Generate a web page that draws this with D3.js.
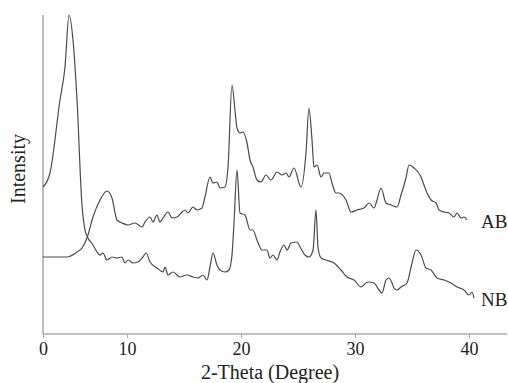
<!DOCTYPE html>
<html>
<head>
<meta charset="utf-8">
<script src="https://cdn.jsdelivr.net/npm/d3@7"></script>
<style>
  body { margin: 0; background: #fff; }
  text { font-family: "Liberation Serif", "Times New Roman", serif; fill: #222; }
</style>
</head>
<body>
<div id="chart"></div>
<script>
// x tick labels
const xTicks = [0, 10, 20, 30, 40];

// series: [2-theta (degree), intensity]
const nbData = [
  [0, 147], [0.83, 161], [2.02, 234], [2.62, 267], [3.10, 319], [3.57, 294], [4.05, 234],
  [4.64, 129], [5.0, 104], [5.36, 96], [5.95, 89], [6.43, 82], [6.79, 79], [7.14, 81],
  [7.62, 74], [8.21, 77], [8.81, 76], [9.40, 77], [9.76, 71], [10.09, 74], [10.53, 71],
  [10.96, 72], [11.40, 77], [11.67, 81], [12.02, 72], [12.63, 66], [13.16, 62], [13.33, 67],
  [13.60, 59], [14.04, 62], [14.65, 57], [15.26, 59], [15.79, 57], [16.23, 56], [16.67, 59],
  [17.02, 54], [17.28, 67], [17.54, 81], [17.89, 69], [18.16, 64], [18.60, 62], [18.95, 64],
  [19.21, 79], [19.39, 112], [19.65, 164], [19.91, 121], [20.35, 119], [20.79, 104], [21.05, 104],
  [21.40, 94], [21.84, 84], [22.28, 84], [22.54, 76], [22.81, 79], [23.16, 74], [23.42, 82],
  [23.77, 89], [24.04, 84], [24.39, 91], [24.91, 92], [25.18, 87], [25.61, 79], [25.96, 77],
  [26.32, 84], [26.58, 124], [26.75, 87], [27.02, 76], [27.46, 74], [28.16, 71], [28.77, 64],
  [29.30, 57], [29.91, 54], [30.53, 47], [30.96, 51], [31.23, 52], [31.67, 51], [32.11, 44],
  [32.37, 41], [32.72, 54], [32.98, 56], [33.25, 51], [33.42, 46], [33.68, 44], [34.04, 47],
  [34.56, 51], [35.0, 71], [35.35, 84], [35.79, 79], [36.23, 66], [36.67, 64], [37.19, 56],
  [37.81, 54], [38.42, 51], [38.95, 47], [39.56, 44], [40.0, 39], [40.26, 42], [40.44, 36]
];

const abData = [
  [0, 77], [2.86, 77], [4.05, 82], [4.64, 86], [5.24, 96], [5.95, 117], [6.79, 134],
  [7.62, 143], [8.21, 136], [8.81, 114], [9.40, 111], [10.09, 109], [10.70, 111], [11.32, 107],
  [11.58, 112], [12.02, 117], [12.28, 112], [12.63, 119], [12.89, 112], [13.16, 116], [13.60, 122],
  [13.95, 116], [14.39, 117], [14.82, 122], [15.09, 124], [15.35, 121], [15.79, 127], [16.14, 124],
  [16.58, 126], [16.84, 137], [17.28, 157], [17.54, 151], [17.89, 152], [18.16, 146], [18.60, 147],
  [18.86, 167], [19.21, 249], [19.47, 224], [19.65, 206], [19.91, 201], [20.18, 202], [20.53, 191],
  [20.79, 174], [21.05, 167], [21.40, 154], [21.75, 152], [22.19, 159], [22.63, 154], [23.16, 162],
  [23.60, 159], [23.95, 161], [24.21, 157], [24.65, 166], [25.26, 147], [25.70, 181], [25.96, 226],
  [26.23, 194], [26.40, 167], [26.67, 169], [27.02, 157], [27.28, 161], [27.72, 161], [27.98, 151],
  [28.33, 141], [28.60, 141], [29.21, 134], [29.65, 122], [30.18, 124], [30.79, 126], [31.23, 131],
  [31.67, 126], [31.93, 134], [32.28, 146], [32.72, 131], [33.16, 129], [33.68, 127], [34.04, 139],
  [34.47, 156], [34.74, 169], [35.18, 166], [35.79, 157], [36.05, 149], [36.32, 141], [36.67, 134],
  [37.11, 131], [37.37, 124], [37.81, 122], [38.25, 121], [38.68, 117], [38.95, 121], [39.30, 116],
  [39.56, 117], [39.82, 114]
];

const series = [
  {id: "AB", values: abData},
  {id: "NB", values: nbData}
];

const dimensions = {
  width: 508,
  height: 383,
  marginLeft: 43,
  marginTop: 14,
  axisY: 334,
  axisEnd: 507
};

const wrapper = d3.select("#chart")
  .append("svg")
    .attr("width", dimensions.width)
    .attr("height", dimensions.height);

// the original axis is squeezed between 0 and 10
const xScale = d3.scaleLinear()
  .domain([0, 10, 40])
  .range([43, 127, 469]);

const yScale = d3.scaleLinear()
  .domain([0, 320])
  .range([dimensions.axisY, dimensions.marginTop]);

// axes
wrapper.append("line")
  .attr("x1", dimensions.marginLeft).attr("x2", dimensions.marginLeft)
  .attr("y1", 15).attr("y2", dimensions.axisY)
  .attr("stroke", "#999")
  .attr("stroke-width", 1.3);

const xAxis = wrapper.append("g")
  .attr("transform", `translate(0, ${dimensions.axisY})`)
  .call(d3.axisBottom(xScale).tickValues(xTicks).tickSize(4).tickSizeOuter(0).tickPadding(4));

xAxis.select(".domain")
  .attr("d", `M${dimensions.marginLeft},0H${dimensions.axisEnd}`)
  .attr("stroke", "#aaa")
  .attr("stroke-width", 1.6);

xAxis.selectAll(".tick line")
  .attr("stroke", "#aaa");

xAxis.selectAll(".tick text")
  .attr("fill", "#1a1a1a")
  .style("font-family", "'Liberation Serif', serif")
  .style("font-size", "18px");

// lines
const lineGenerator = d3.line()
  .curve(d3.curveMonotoneX)
  .x(d => xScale(d[0]))
  .y(d => yScale(d[1]));

wrapper.selectAll(".series")
  .data(series)
  .enter()
  .append("path")
    .attr("class", "series")
    .attr("d", d => lineGenerator(d.values))
    .attr("fill", "none")
    .attr("stroke", "#4a4a4a")
    .attr("stroke-width", 1.2)
    .attr("stroke-linejoin", "round");

// series labels
wrapper.selectAll(".label")
  .data(series)
  .enter()
  .append("text")
    .attr("class", "label")
    .attr("x", 481)
    .attr("y", d => yScale(d.values[d.values.length - 1][1]) + 8)
    .style("font-size", "19px")
    .text(d => d.id);

// axis titles
wrapper.append("text")
  .attr("x", 270)
  .attr("y", 379)
  .attr("text-anchor", "middle")
  .style("font-size", "20px")
  .text("2-Theta (Degree)");

wrapper.append("text")
  .attr("transform", "translate(25, 169) rotate(-90)")
  .attr("text-anchor", "middle")
  .style("font-size", "20px")
  .text("Intensity");
</script>
</body>
</html>
